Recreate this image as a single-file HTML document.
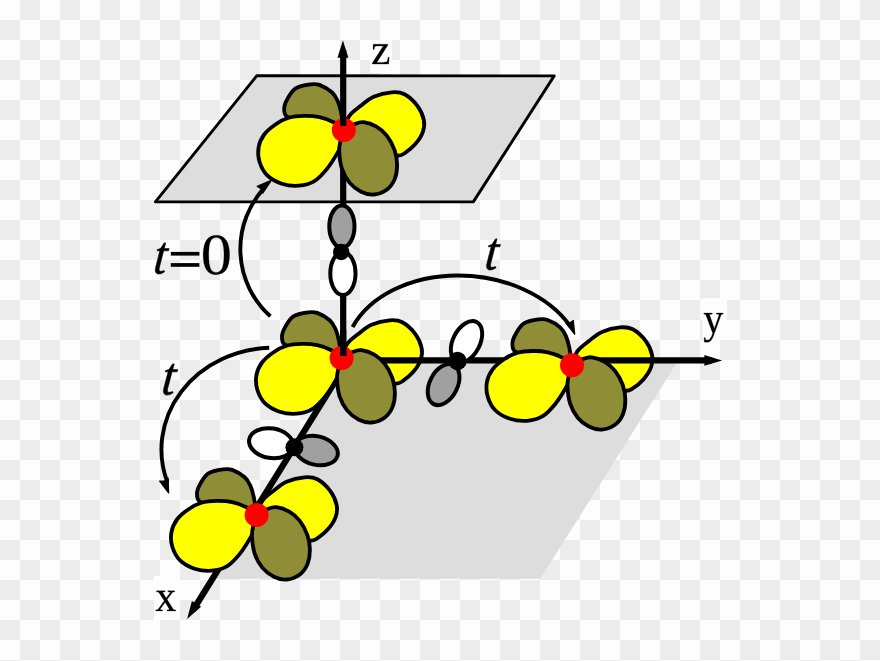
<!DOCTYPE html>
<html><head><meta charset="utf-8"><style>html,body{margin:0;padding:0;background:#fdfdfd;overflow:hidden}svg{display:block}</style></head>
<body><svg width="880" height="661" viewBox="0 0 880 661">
<defs>
<pattern id="chk" width="40" height="40" patternUnits="userSpaceOnUse"><rect width="40" height="40" fill="#fdfdfd"/><rect x="20" y="0" width="20" height="20" fill="#ececec"/><rect x="0" y="20" width="20" height="20" fill="#ececec"/></pattern>
</defs>
<rect width="880" height="661" fill="url(#chk)"/>
<path d="M349.6,360.4 L678.2,360.4 L540.2,578.8 L213,578.8 Z" fill="#dddddd"/>
<path d="M256.7,75.8 L554.2,75.9 L473.3,201.9 L155.4,201.9 Z" fill="#dddddd" stroke="#000" stroke-width="2.9" stroke-linejoin="round"/>
<g transform="translate(341.60,358.10)" stroke="#000" stroke-width="3.8" stroke-linejoin="round"><path d="M0.00,0.00 C-3.33,-1.00 -12.50,-4.33 -20.00,-6.00 C-27.50,-7.67 -38.78,-8.68 -45.00,-10.00 C-51.22,-11.32 -54.87,-11.82 -57.30,-13.90 C-59.73,-15.98 -59.78,-19.57 -59.60,-22.50 C-59.42,-25.43 -58.10,-28.28 -56.20,-31.50 C-54.30,-34.72 -51.98,-39.42 -48.20,-41.80 C-44.42,-44.17 -37.47,-45.18 -33.50,-45.75 C-29.53,-46.32 -28.00,-46.53 -24.40,-45.20 C-20.80,-43.88 -14.93,-40.45 -11.90,-37.80 C-8.87,-35.15 -7.72,-32.62 -6.20,-29.30 C-4.68,-25.98 -3.83,-22.78 -2.80,-17.90 C-1.77,-13.02 -0.47,-2.98 0.00,0.00" fill="#8f8d36"/><path d="M0.00,0.00 C0.90,-2.33 2.57,-9.95 5.40,-14.00 C8.23,-18.05 12.92,-21.08 17.00,-24.30 C21.08,-27.52 24.75,-31.05 29.90,-33.30 C35.05,-35.55 42.77,-37.37 47.90,-37.80 C53.03,-38.23 56.42,-38.15 60.70,-35.90 C64.98,-33.65 70.38,-28.58 73.60,-24.30 C76.82,-20.02 79.10,-14.58 80.00,-10.20 C80.90,-5.82 80.42,-2.03 79.00,2.00 C77.58,6.03 74.50,10.50 71.50,14.00 C68.50,17.50 64.08,21.08 61.00,23.00 C57.92,24.92 57.33,26.00 53.00,25.50 C48.67,25.00 41.33,22.92 35.00,20.00 C28.67,17.08 20.83,11.33 15.00,8.00 C9.17,4.67 2.50,1.33 0.00,0.00" fill="#ffff00"/></g>
<g transform="translate(572.05,365.20)" stroke="#000" stroke-width="3.8" stroke-linejoin="round"><path d="M0.00,0.00 C-3.33,-1.00 -12.50,-4.33 -20.00,-6.00 C-27.50,-7.67 -38.78,-8.68 -45.00,-10.00 C-51.22,-11.32 -54.87,-11.82 -57.30,-13.90 C-59.73,-15.98 -59.78,-19.57 -59.60,-22.50 C-59.42,-25.43 -58.10,-28.28 -56.20,-31.50 C-54.30,-34.72 -51.98,-39.42 -48.20,-41.80 C-44.42,-44.17 -37.47,-45.18 -33.50,-45.75 C-29.53,-46.32 -28.00,-46.53 -24.40,-45.20 C-20.80,-43.88 -14.93,-40.45 -11.90,-37.80 C-8.87,-35.15 -7.72,-32.62 -6.20,-29.30 C-4.68,-25.98 -3.83,-22.78 -2.80,-17.90 C-1.77,-13.02 -0.47,-2.98 0.00,0.00" fill="#8f8d36"/><path d="M0.00,0.00 C0.90,-2.33 2.57,-9.95 5.40,-14.00 C8.23,-18.05 12.92,-21.08 17.00,-24.30 C21.08,-27.52 24.75,-31.05 29.90,-33.30 C35.05,-35.55 42.77,-37.37 47.90,-37.80 C53.03,-38.23 56.42,-38.15 60.70,-35.90 C64.98,-33.65 70.38,-28.58 73.60,-24.30 C76.82,-20.02 79.10,-14.58 80.00,-10.20 C80.90,-5.82 80.42,-2.03 79.00,2.00 C77.58,6.03 74.50,10.50 71.50,14.00 C68.50,17.50 64.08,21.08 61.00,23.00 C57.92,24.92 57.33,26.00 53.00,25.50 C48.67,25.00 41.33,22.92 35.00,20.00 C28.67,17.08 20.83,11.33 15.00,8.00 C9.17,4.67 2.50,1.33 0.00,0.00" fill="#ffff00"/></g>
<g transform="translate(256.60,515.10)" stroke="#000" stroke-width="3.8" stroke-linejoin="round"><path d="M0.00,0.00 C-3.33,-1.00 -12.50,-4.33 -20.00,-6.00 C-27.50,-7.67 -38.78,-8.68 -45.00,-10.00 C-51.22,-11.32 -54.87,-11.82 -57.30,-13.90 C-59.73,-15.98 -59.78,-19.57 -59.60,-22.50 C-59.42,-25.43 -58.10,-28.28 -56.20,-31.50 C-54.30,-34.72 -51.98,-39.42 -48.20,-41.80 C-44.42,-44.17 -37.47,-45.18 -33.50,-45.75 C-29.53,-46.32 -28.00,-46.53 -24.40,-45.20 C-20.80,-43.88 -14.93,-40.45 -11.90,-37.80 C-8.87,-35.15 -7.72,-32.62 -6.20,-29.30 C-4.68,-25.98 -3.83,-22.78 -2.80,-17.90 C-1.77,-13.02 -0.47,-2.98 0.00,0.00" fill="#8f8d36"/><path d="M0.00,0.00 C0.90,-2.33 2.57,-9.95 5.40,-14.00 C8.23,-18.05 12.92,-21.08 17.00,-24.30 C21.08,-27.52 24.75,-31.05 29.90,-33.30 C35.05,-35.55 42.77,-37.37 47.90,-37.80 C53.03,-38.23 56.42,-38.15 60.70,-35.90 C64.98,-33.65 70.38,-28.58 73.60,-24.30 C76.82,-20.02 79.10,-14.58 80.00,-10.20 C80.90,-5.82 80.42,-2.03 79.00,2.00 C77.58,6.03 74.50,10.50 71.50,14.00 C68.50,17.50 64.08,21.08 61.00,23.00 C57.92,24.92 57.33,26.00 53.00,25.50 C48.67,25.00 41.33,22.92 35.00,20.00 C28.67,17.08 20.83,11.33 15.00,8.00 C9.17,4.67 2.50,1.33 0.00,0.00" fill="#ffff00"/></g>
<line x1="345" y1="360.4" x2="712" y2="360.4" stroke="#000" stroke-width="6.2"/>
<path d="M722.20,360.40 L704.40,365.80 L704.40,360.40 L704.40,355.00 Z" fill="#000"/>
<line x1="349.61" y1="358" x2="193.12" y2="610" stroke="#000" stroke-width="6.2"/>
<path d="M187.10,618.90 L191.90,600.93 L196.49,603.78 L201.08,606.63 Z" fill="#000"/>
<g transform="translate(341.60,358.10)" stroke="#000" stroke-width="3.8" stroke-linejoin="round"><path d="M0.00,0.00 C-1.70,-1.30 -6.15,-5.65 -10.20,-7.80 C-14.25,-9.95 -19.38,-11.83 -24.30,-12.90 C-29.22,-13.97 -34.57,-14.30 -39.70,-14.20 C-44.83,-14.10 -50.38,-13.68 -55.10,-12.30 C-59.82,-10.92 -63.92,-8.68 -68.00,-5.90 C-72.08,-3.12 -76.73,0.53 -79.60,4.40 C-82.47,8.27 -84.43,12.72 -85.20,17.30 C-85.97,21.88 -85.65,27.23 -84.20,31.90 C-82.75,36.57 -80.20,41.68 -76.50,45.30 C-72.80,48.92 -67.27,51.88 -62.00,53.60 C-56.73,55.32 -50.33,56.03 -44.90,55.60 C-39.47,55.17 -34.12,53.85 -29.40,51.00 C-24.68,48.15 -20.45,43.20 -16.60,38.50 C-12.75,33.80 -8.87,27.20 -6.30,22.80 C-3.73,18.40 -2.25,15.90 -1.20,12.10 C-0.15,8.30 -0.20,2.02 0.00,0.00" fill="#ffff00"/><path d="M0.00,0.00 C1.82,-1.00 7.58,-4.68 10.90,-6.00 C14.22,-7.32 16.27,-8.33 19.90,-7.90 C23.53,-7.47 28.85,-5.65 32.70,-3.40 C36.55,-1.15 40.00,1.75 43.00,5.60 C46.00,9.45 48.98,14.92 50.70,19.70 C52.42,24.48 53.25,29.45 53.30,34.30 C53.35,39.15 52.67,44.63 51.00,48.80 C49.33,52.97 46.78,56.70 43.30,59.30 C39.82,61.90 34.43,64.02 30.10,64.40 C25.77,64.78 21.37,63.58 17.30,61.60 C13.23,59.62 8.92,56.40 5.70,52.50 C2.48,48.60 -0.28,43.45 -2.00,38.20 C-3.72,32.95 -4.38,25.58 -4.60,21.00 C-4.82,16.42 -4.07,14.20 -3.30,10.70 C-2.53,7.20 -0.55,1.78 0.00,0.00" fill="#8f8d36"/></g>
<g transform="translate(572.05,365.20)" stroke="#000" stroke-width="3.8" stroke-linejoin="round"><path d="M0.00,0.00 C-1.70,-1.30 -6.15,-5.65 -10.20,-7.80 C-14.25,-9.95 -19.38,-11.83 -24.30,-12.90 C-29.22,-13.97 -34.57,-14.30 -39.70,-14.20 C-44.83,-14.10 -50.38,-13.68 -55.10,-12.30 C-59.82,-10.92 -63.92,-8.68 -68.00,-5.90 C-72.08,-3.12 -76.73,0.53 -79.60,4.40 C-82.47,8.27 -84.43,12.72 -85.20,17.30 C-85.97,21.88 -85.65,27.23 -84.20,31.90 C-82.75,36.57 -80.20,41.68 -76.50,45.30 C-72.80,48.92 -67.27,51.88 -62.00,53.60 C-56.73,55.32 -50.33,56.03 -44.90,55.60 C-39.47,55.17 -34.12,53.85 -29.40,51.00 C-24.68,48.15 -20.45,43.20 -16.60,38.50 C-12.75,33.80 -8.87,27.20 -6.30,22.80 C-3.73,18.40 -2.25,15.90 -1.20,12.10 C-0.15,8.30 -0.20,2.02 0.00,0.00" fill="#ffff00"/><path d="M0.00,0.00 C1.82,-1.00 7.58,-4.68 10.90,-6.00 C14.22,-7.32 16.27,-8.33 19.90,-7.90 C23.53,-7.47 28.85,-5.65 32.70,-3.40 C36.55,-1.15 40.00,1.75 43.00,5.60 C46.00,9.45 48.98,14.92 50.70,19.70 C52.42,24.48 53.25,29.45 53.30,34.30 C53.35,39.15 52.67,44.63 51.00,48.80 C49.33,52.97 46.78,56.70 43.30,59.30 C39.82,61.90 34.43,64.02 30.10,64.40 C25.77,64.78 21.37,63.58 17.30,61.60 C13.23,59.62 8.92,56.40 5.70,52.50 C2.48,48.60 -0.28,43.45 -2.00,38.20 C-3.72,32.95 -4.38,25.58 -4.60,21.00 C-4.82,16.42 -4.07,14.20 -3.30,10.70 C-2.53,7.20 -0.55,1.78 0.00,0.00" fill="#8f8d36"/></g>
<g transform="translate(256.60,515.10)" stroke="#000" stroke-width="3.8" stroke-linejoin="round"><path d="M0.00,0.00 C-1.70,-1.30 -6.15,-5.65 -10.20,-7.80 C-14.25,-9.95 -19.38,-11.83 -24.30,-12.90 C-29.22,-13.97 -34.57,-14.30 -39.70,-14.20 C-44.83,-14.10 -50.38,-13.68 -55.10,-12.30 C-59.82,-10.92 -63.92,-8.68 -68.00,-5.90 C-72.08,-3.12 -76.73,0.53 -79.60,4.40 C-82.47,8.27 -84.43,12.72 -85.20,17.30 C-85.97,21.88 -85.65,27.23 -84.20,31.90 C-82.75,36.57 -80.20,41.68 -76.50,45.30 C-72.80,48.92 -67.27,51.88 -62.00,53.60 C-56.73,55.32 -50.33,56.03 -44.90,55.60 C-39.47,55.17 -34.12,53.85 -29.40,51.00 C-24.68,48.15 -20.45,43.20 -16.60,38.50 C-12.75,33.80 -8.87,27.20 -6.30,22.80 C-3.73,18.40 -2.25,15.90 -1.20,12.10 C-0.15,8.30 -0.20,2.02 0.00,0.00" fill="#ffff00"/><path d="M0.00,0.00 C1.82,-1.00 7.58,-4.68 10.90,-6.00 C14.22,-7.32 16.27,-8.33 19.90,-7.90 C23.53,-7.47 28.85,-5.65 32.70,-3.40 C36.55,-1.15 40.00,1.75 43.00,5.60 C46.00,9.45 48.98,14.92 50.70,19.70 C52.42,24.48 53.25,29.45 53.30,34.30 C53.35,39.15 52.67,44.63 51.00,48.80 C49.33,52.97 46.78,56.70 43.30,59.30 C39.82,61.90 34.43,64.02 30.10,64.40 C25.77,64.78 21.37,63.58 17.30,61.60 C13.23,59.62 8.92,56.40 5.70,52.50 C2.48,48.60 -0.28,43.45 -2.00,38.20 C-3.72,32.95 -4.38,25.58 -4.60,21.00 C-4.82,16.42 -4.07,14.20 -3.30,10.70 C-2.53,7.20 -0.55,1.78 0.00,0.00" fill="#8f8d36"/></g>
<circle cx="341.60" cy="358.10" r="12" fill="#ff0000"/>
<circle cx="572.05" cy="365.20" r="12" fill="#ff0000"/>
<circle cx="256.60" cy="515.10" r="12" fill="#ff0000"/>
<line x1="343.2" y1="356" x2="343.2" y2="130" stroke="#000" stroke-width="6.2"/>
<g stroke="#000" stroke-width="4">
<ellipse cx="341.9" cy="226.5" rx="12.6" ry="21" fill="#a0a0a0"/>
<ellipse cx="342.9" cy="273.5" rx="12.6" ry="21.5" fill="#fff"/>
</g>
<circle cx="341.2" cy="252" r="8.2" fill="#000"/>
<g stroke="#000" stroke-width="4">
<ellipse rx="13.5" ry="22.2" transform="translate(466.5,341.8) rotate(27)" fill="#fff"/>
<ellipse rx="13.9" ry="21.9" transform="translate(443.6,384.6) rotate(27)" fill="#a0a0a0"/>
</g>
<circle cx="457.5" cy="361" r="9.2" fill="#000"/>
<g stroke="#000" stroke-width="4">
<ellipse rx="22.2" ry="14.8" transform="translate(271.1,443.2) rotate(9.3)" fill="#fff"/>
<ellipse rx="21.9" ry="14.3" transform="translate(316.3,450.5) rotate(13.5)" fill="#a0a0a0"/>
</g>
<circle cx="294.4" cy="447.3" r="9" fill="#000"/>
<g transform="translate(343.80,130.10)" stroke="#000" stroke-width="3.8" stroke-linejoin="round"><path d="M0.00,0.00 C-3.33,-1.00 -12.50,-4.33 -20.00,-6.00 C-27.50,-7.67 -38.78,-8.68 -45.00,-10.00 C-51.22,-11.32 -54.87,-11.82 -57.30,-13.90 C-59.73,-15.98 -59.78,-19.57 -59.60,-22.50 C-59.42,-25.43 -58.10,-28.28 -56.20,-31.50 C-54.30,-34.72 -51.98,-39.42 -48.20,-41.80 C-44.42,-44.17 -37.47,-45.18 -33.50,-45.75 C-29.53,-46.32 -28.00,-46.53 -24.40,-45.20 C-20.80,-43.88 -14.93,-40.45 -11.90,-37.80 C-8.87,-35.15 -7.72,-32.62 -6.20,-29.30 C-4.68,-25.98 -3.83,-22.78 -2.80,-17.90 C-1.77,-13.02 -0.47,-2.98 0.00,0.00" fill="#8f8d36"/><path d="M0.00,0.00 C0.90,-2.33 2.57,-9.95 5.40,-14.00 C8.23,-18.05 12.92,-21.08 17.00,-24.30 C21.08,-27.52 24.75,-31.05 29.90,-33.30 C35.05,-35.55 42.77,-37.37 47.90,-37.80 C53.03,-38.23 56.42,-38.15 60.70,-35.90 C64.98,-33.65 70.38,-28.58 73.60,-24.30 C76.82,-20.02 79.10,-14.58 80.00,-10.20 C80.90,-5.82 80.42,-2.03 79.00,2.00 C77.58,6.03 74.50,10.50 71.50,14.00 C68.50,17.50 64.08,21.08 61.00,23.00 C57.92,24.92 57.33,26.00 53.00,25.50 C48.67,25.00 41.33,22.92 35.00,20.00 C28.67,17.08 20.83,11.33 15.00,8.00 C9.17,4.67 2.50,1.33 0.00,0.00" fill="#ffff00"/></g>
<g transform="translate(343.80,130.10)" stroke="#000" stroke-width="3.8" stroke-linejoin="round"><path d="M0.00,0.00 C-1.70,-1.30 -6.15,-5.65 -10.20,-7.80 C-14.25,-9.95 -19.38,-11.83 -24.30,-12.90 C-29.22,-13.97 -34.57,-14.30 -39.70,-14.20 C-44.83,-14.10 -50.38,-13.68 -55.10,-12.30 C-59.82,-10.92 -63.92,-8.68 -68.00,-5.90 C-72.08,-3.12 -76.73,0.53 -79.60,4.40 C-82.47,8.27 -84.43,12.72 -85.20,17.30 C-85.97,21.88 -85.65,27.23 -84.20,31.90 C-82.75,36.57 -80.20,41.68 -76.50,45.30 C-72.80,48.92 -67.27,51.88 -62.00,53.60 C-56.73,55.32 -50.33,56.03 -44.90,55.60 C-39.47,55.17 -34.12,53.85 -29.40,51.00 C-24.68,48.15 -20.45,43.20 -16.60,38.50 C-12.75,33.80 -8.87,27.20 -6.30,22.80 C-3.73,18.40 -2.25,15.90 -1.20,12.10 C-0.15,8.30 -0.20,2.02 0.00,0.00" fill="#ffff00"/><path d="M0.00,0.00 C1.82,-1.00 7.58,-4.68 10.90,-6.00 C14.22,-7.32 16.27,-8.33 19.90,-7.90 C23.53,-7.47 28.85,-5.65 32.70,-3.40 C36.55,-1.15 40.00,1.75 43.00,5.60 C46.00,9.45 48.98,14.92 50.70,19.70 C52.42,24.48 53.25,29.45 53.30,34.30 C53.35,39.15 52.67,44.63 51.00,48.80 C49.33,52.97 46.78,56.70 43.30,59.30 C39.82,61.90 34.43,64.02 30.10,64.40 C25.77,64.78 21.37,63.58 17.30,61.60 C13.23,59.62 8.92,56.40 5.70,52.50 C2.48,48.60 -0.28,43.45 -2.00,38.20 C-3.72,32.95 -4.38,25.58 -4.60,21.00 C-4.82,16.42 -4.07,14.20 -3.30,10.70 C-2.53,7.20 -0.55,1.78 0.00,0.00" fill="#8f8d36"/></g>
<circle cx="343.80" cy="130.10" r="12" fill="#ff0000"/>
<line x1="343.2" y1="126" x2="343.2" y2="50" stroke="#000" stroke-width="6.2"/>
<path d="M342.90,40.30 L348.35,57.80 L342.90,57.80 L337.45,57.80 Z" fill="#000"/>
<line x1="343.2" y1="356" x2="343.2" y2="330" stroke="#000" stroke-width="6.2"/>
<g fill="none" stroke="#000" stroke-width="3.9">
<path d="M270.34,316.29 A90.250,90.250 0.000 0 1 264.59,187.55"/>
<path d="M352.55,327.05 A120.580,88.480 4.780 0 1 570.52,326.49"/>
<path d="M269.20,347.75 A112.070,101.920 0.000 0 0 167.40,482.41"/>
</g>
<path d="M271.30,180.40 L257.20,186.30 L261.50,189.30 L262.70,193.10Z" fill="#000" stroke="#000" stroke-width="1.3" stroke-linejoin="round"/>
<path d="M574.70,334.20 L573.20,320.40 L569.50,323.20 L566.00,323.00Z" fill="#000" stroke="#000" stroke-width="1.3" stroke-linejoin="round"/>
<path d="M168.60,492.90 L159.70,481.10 L163.80,481.20 L168.10,478.20Z" fill="#000" stroke="#000" stroke-width="1.3" stroke-linejoin="round"/>
<rect x="370" y="40" width="22.2" height="33" fill="#fdfdfd"/>
<rect x="702.5" y="298" width="24.5" height="42" fill="#fdfdfd"/>
<rect x="154" y="576" width="26" height="44" fill="#fdfdfd"/>
<path d="M372.32 64.08V63.12L383.23 45.91H378.56Q377.38 45.91 376.28 46.11Q375.18 46.32 374.76 46.65L374.1 49.5H373.11V44.23H387.78V45.26L376.87 62.39H382.68Q383.89 62.39 385.22 62.1Q386.55 61.82 387.1 61.39L388.18 57.23H389.18L388.65 64.08Z" fill="#000" stroke="#000" stroke-width="0.25" stroke-linejoin="round"/>
<path d="M707.22 342.27Q705.7 342.27 704.22 341.89V337.6H705.13L705.78 339.63Q706.38 340.12 707.46 340.12Q708.47 340.12 709.33 339.48Q710.19 338.85 710.9 337.6Q711.62 336.35 712.69 333.13L705.7 314.51L703.83 313.98V313.02H712.34V313.98L709.45 314.55L714.41 328.45L719.21 314.51L716.34 313.98V313.02H723.17V313.98L721.26 314.42L714.1 334.17Q712.83 337.66 711.89 339.18Q710.95 340.71 709.82 341.49Q708.69 342.27 707.22 342.27Z" fill="#000" stroke="#000" stroke-width="0.25" stroke-linejoin="round"/>
<path d="M175.68 609.92V610.88H167.01V609.92L169.55 609.42L165.14 602.32L159.98 609.47L162.6 609.92V610.88H155.72V609.92L157.94 609.57L164.23 600.87L158.69 592.32L156.44 591.78V590.83H165.1V591.78L162.56 592.36L166.24 598.12L170.47 592.32L167.85 591.78V590.83H174.72V591.78L172.52 592.23L167.15 599.53L173.44 609.47Z" fill="#000" stroke="#000" stroke-width="0.25" stroke-linejoin="round"/>
<path d="M159.15 268.94Q159.03 270.14 159.48 270.74Q159.93 271.33 160.72 271.33Q162.38 271.33 164.26 270.54L164.61 271.79Q161.58 274.1 158.71 274.1Q156.92 274.1 156.02 272.82Q155.11 271.55 155.35 269.26Q155.43 268.49 155.66 267.44Q155.89 266.39 159.85 250.8H157.06L157.36 249.6L160.49 248.57L164.18 242.9H165.64L164.22 248.57H169.1L168.51 250.8H163.62L159.92 265.4Q159.26 267.85 159.15 268.94Z" fill="#000" stroke="#000" stroke-width="0.6" stroke-linejoin="round"/>
<rect x="170.8" y="251.9" width="28.6" height="3.7" fill="#000"/><rect x="170.8" y="263.1" width="28.6" height="3.7" fill="#000"/>
<path d="M229.6 254.86Q229.6 274.7 216.17 274.7Q209.69 274.7 206.4 269.63Q203.1 264.55 203.1 254.86Q203.1 245.36 206.4 240.33Q209.69 235.3 216.41 235.3Q222.88 235.3 226.24 240.27Q229.6 245.25 229.6 254.86ZM223.98 254.86Q223.98 245.68 222.12 241.63Q220.26 237.58 216.17 237.58Q212.2 237.58 210.46 241.4Q208.72 245.22 208.72 254.86Q208.72 264.55 210.49 268.5Q212.26 272.45 216.17 272.45Q220.2 272.45 222.09 268.3Q223.98 264.15 223.98 254.86Z" fill="#000" stroke="#000" stroke-width="0.2" stroke-linejoin="round"/>
<path d="M490.48 264.94Q490.36 266.14 490.81 266.74Q491.26 267.33 492.06 267.33Q493.73 267.33 495.62 266.54L495.98 267.79Q492.92 270.1 490.04 270.1Q488.23 270.1 487.32 268.82Q486.41 267.55 486.65 265.26Q486.73 264.49 486.96 263.44Q487.2 262.39 491.19 246.8H488.37L488.68 245.6L491.83 244.57L495.55 238.9H497.01L495.58 244.57H500.5L499.9 246.8H494.98L491.26 261.4Q490.59 263.85 490.48 264.94Z" fill="#000" stroke="#000" stroke-width="0.6" stroke-linejoin="round"/>
<path d="M167.42 389.94Q167.29 391.14 167.76 391.74Q168.23 392.33 169.06 392.33Q170.79 392.33 172.75 391.54L173.11 392.79Q169.95 395.1 166.96 395.1Q165.09 395.1 164.15 393.82Q163.21 392.55 163.45 390.26Q163.53 389.49 163.78 388.44Q164.02 387.39 168.15 371.8H165.23L165.55 370.6L168.82 369.57L172.67 363.9H174.19L172.7 369.57H177.8L177.18 371.8H172.09L168.22 386.4Q167.54 388.85 167.42 389.94Z" fill="#000" stroke="#000" stroke-width="0.6" stroke-linejoin="round"/>
</svg></body></html>
